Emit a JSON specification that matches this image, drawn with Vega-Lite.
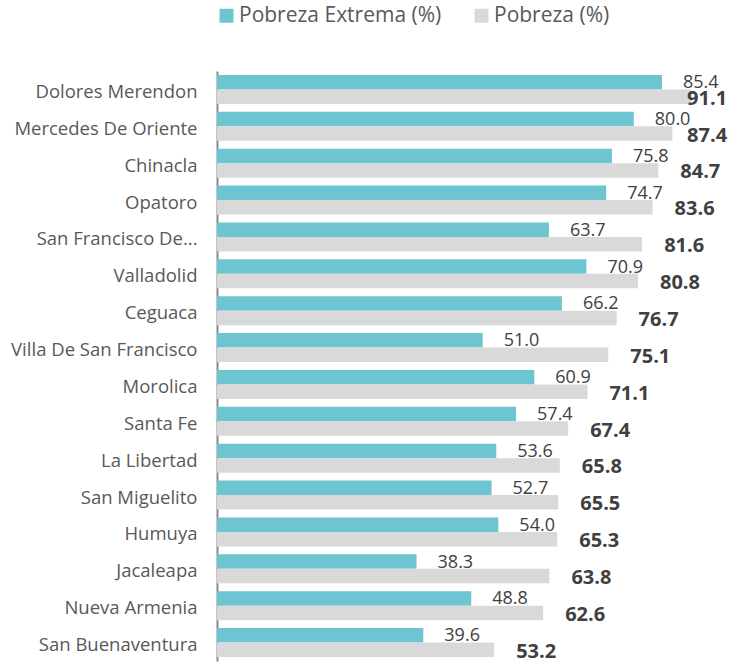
{
  "$schema": "https://vega.github.io/schema/vega-lite/v6.json",
  "autosize": {"type": "none"},
  "padding": {"left": 217, "top": 71, "right": 11, "bottom": 2},
  "width": 521,
  "height": 590,
  "background": "white",
  "config": {
    "view": {"stroke": null},
    "font": "Open Sans"
  },
  "data": {
    "values": [
      {"municipio": "Dolores Merendon", "serie": "Pobreza Extrema (%)", "valor": 85.4},
      {"municipio": "Dolores Merendon", "serie": "Pobreza (%)", "valor": 91.1},
      {"municipio": "Mercedes De Oriente", "serie": "Pobreza Extrema (%)", "valor": 80.0},
      {"municipio": "Mercedes De Oriente", "serie": "Pobreza (%)", "valor": 87.4},
      {"municipio": "Chinacla", "serie": "Pobreza Extrema (%)", "valor": 75.8},
      {"municipio": "Chinacla", "serie": "Pobreza (%)", "valor": 84.7},
      {"municipio": "Opatoro", "serie": "Pobreza Extrema (%)", "valor": 74.7},
      {"municipio": "Opatoro", "serie": "Pobreza (%)", "valor": 83.6},
      {"municipio": "San Francisco De...", "serie": "Pobreza Extrema (%)", "valor": 63.7},
      {"municipio": "San Francisco De...", "serie": "Pobreza (%)", "valor": 81.6},
      {"municipio": "Valladolid", "serie": "Pobreza Extrema (%)", "valor": 70.9},
      {"municipio": "Valladolid", "serie": "Pobreza (%)", "valor": 80.8},
      {"municipio": "Ceguaca", "serie": "Pobreza Extrema (%)", "valor": 66.2},
      {"municipio": "Ceguaca", "serie": "Pobreza (%)", "valor": 76.7},
      {"municipio": "Villa De San Francisco", "serie": "Pobreza Extrema (%)", "valor": 51.0},
      {"municipio": "Villa De San Francisco", "serie": "Pobreza (%)", "valor": 75.1},
      {"municipio": "Morolica", "serie": "Pobreza Extrema (%)", "valor": 60.9},
      {"municipio": "Morolica", "serie": "Pobreza (%)", "valor": 71.1},
      {"municipio": "Santa Fe", "serie": "Pobreza Extrema (%)", "valor": 57.4},
      {"municipio": "Santa Fe", "serie": "Pobreza (%)", "valor": 67.4},
      {"municipio": "La Libertad", "serie": "Pobreza Extrema (%)", "valor": 53.6},
      {"municipio": "La Libertad", "serie": "Pobreza (%)", "valor": 65.8},
      {"municipio": "San Miguelito", "serie": "Pobreza Extrema (%)", "valor": 52.7},
      {"municipio": "San Miguelito", "serie": "Pobreza (%)", "valor": 65.5},
      {"municipio": "Humuya", "serie": "Pobreza Extrema (%)", "valor": 54.0},
      {"municipio": "Humuya", "serie": "Pobreza (%)", "valor": 65.3},
      {"municipio": "Jacaleapa", "serie": "Pobreza Extrema (%)", "valor": 38.3},
      {"municipio": "Jacaleapa", "serie": "Pobreza (%)", "valor": 63.8},
      {"municipio": "Nueva Armenia", "serie": "Pobreza Extrema (%)", "valor": 48.8},
      {"municipio": "Nueva Armenia", "serie": "Pobreza (%)", "valor": 62.6},
      {"municipio": "San Buenaventura", "serie": "Pobreza Extrema (%)", "valor": 39.6},
      {"municipio": "San Buenaventura", "serie": "Pobreza (%)", "valor": 53.2}
    ]
  },
  "encoding": {
    "y": {
      "field": "municipio",
      "type": "nominal",
      "sort": null,
      "scale": {"paddingInner": 0.214, "paddingOuter": 0.107},
      "axis": {
        "title": null,
        "ticks": false,
        "tickSize": 0,
        "domainColor": "#898989",
        "domainWidth": 2,
        "labelColor": "#595959",
        "labelFont": "Open Sans",
        "labelFontSize": 18.5,
        "labelPadding": 20,
        "labelOffset": 2.5,
        "labelLimit": 300
      }
    },
    "yOffset": {
      "field": "serie",
      "type": "nominal",
      "sort": ["Pobreza Extrema (%)", "Pobreza (%)"],
      "scale": {"paddingInner": 0, "paddingOuter": 0}
    }
  },
  "layer": [
    {
      "mark": {"type": "bar"},
      "encoding": {
        "x": {
          "field": "valor",
          "type": "quantitative",
          "scale": {"domain": [0, 100], "nice": false},
          "axis": null
        },
        "color": {
          "field": "serie",
          "type": "nominal",
          "sort": ["Pobreza Extrema (%)", "Pobreza (%)"],
          "scale": {"domain": ["Pobreza Extrema (%)", "Pobreza (%)"], "range": ["#6CC5D0", "#D9D9D9"]},
          "legend": {
            "title": null,
            "orient": "none",
            "direction": "horizontal",
            "legendX": -1,
            "legendY": -66,
            "symbolType": "square",
            "symbolSize": 196,
            "symbolStrokeWidth": 0,
            "labelFont": "Open Sans",
            "labelFontSize": 21,
            "labelColor": "#595959",
            "labelOffset": 2,
            "columnPadding": 29,
            "labelLimit": 400
          }
        }
      }
    },
    {
      "transform": [{"filter": "datum.serie == 'Pobreza Extrema (%)'"}],
      "mark": {"type": "text", "align": "left", "baseline": "middle", "dx": 21, "dy": 1, "fontSize": 18, "color": "#404040", "font": "Open Sans"},
      "encoding": {
        "x": {"field": "valor", "type": "quantitative"},
        "text": {"field": "valor", "type": "quantitative", "format": ".1f"}
      }
    },
    {
      "transform": [
        {"filter": "datum.serie == 'Pobreza (%)'"},
        {"calculate": "min(datum.valor, 86)", "as": "posEtiqueta"}
      ],
      "mark": {"type": "text", "align": "left", "baseline": "middle", "dx": 22, "dy": 2, "fontSize": 20, "fontWeight": "bold", "color": "#404040", "font": "Open Sans"},
      "encoding": {
        "x": {"field": "posEtiqueta", "type": "quantitative"},
        "text": {"field": "valor", "type": "quantitative", "format": ".1f"}
      }
    }
  ]
}
